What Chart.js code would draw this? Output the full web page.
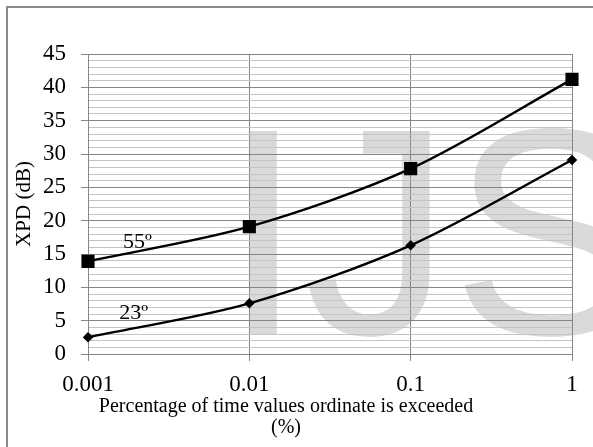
<!DOCTYPE html>
<html>
<head>
<meta charset="utf-8">
<script src="https://cdn.jsdelivr.net/npm/chart.js@4.4.0/dist/chart.umd.min.js"></script>
<style>
  body { margin: 0; background: #fff; }
  #frame { position: absolute; left: 6px; top: 6px; width: 620px; height: 470px; border: 2px solid #8a8a8a; }
  #wrap { position: absolute; left: 0; top: 0; width: 593px; height: 447px; }
</style>
</head>
<body>
<div id="frame"></div>
<div id="wrap"><canvas id="myLine"></canvas></div>
<script>
// values
var xVals = [0.001, 0.01, 0.1, 1];
var xTicks = [0.001, 0.01, 0.1, 1];
var s55 = [13.9, 19.1, 27.8, 41.2];
var s23 = [2.5, 7.6, 16.3, 29.1];
var curveNames = ['55º', '23º'];
var curveLabelAt = [[0.00165, 15.9], [0.00156, 5.25]];

function pts(ys){
	var out = [];
	for(var i=0;i<xVals.length;i++){
		out.push({x: xVals[i], y: ys[i]});
	}
	return out;
}

// grey watermark behind the grid
var watermark = {
	id: 'watermark',
	beforeDraw: function(chart){
		var ctx = chart.ctx;
		ctx.save();
		ctx.fillStyle = '#dadada';
		ctx.font = '295px "Liberation Sans"';
		ctx.textBaseline = 'alphabetic';
		ctx.fillText('IJSER', 222, 334);
		ctx.restore();
	}
};

// the 55º / 23º tags next to the curves
var curveTags = {
	id: 'curveTags',
	afterDatasetsDraw: function(chart){
		var ctx = chart.ctx;
		var xs = chart.scales.x, ys = chart.scales.y;
		ctx.save();
		ctx.fillStyle = '#000';
		ctx.font = '22px "Liberation Serif"';
		ctx.textBaseline = 'alphabetic';
		for(var i=0;i<curveNames.length;i++){
			ctx.fillText(curveNames[i], xs.getPixelForValue(curveLabelAt[i][0]), ys.getPixelForValue(curveLabelAt[i][1]));
		}
		ctx.restore();
	}
};

var ctx = document.getElementById('myLine').getContext('2d');
var myChart = new Chart(ctx, {
	type: 'line',
	data: {
		datasets: [
		{
			label: '55º',
			data: pts(s55),
			borderColor: '#000',
			backgroundColor: '#000',
			borderWidth: 2.5,
			pointStyle: 'rect',
			pointRadius: 7.5,
			tension: 0.3,
			fill: false,
			clip: false
		},
		{
			label: '23º',
			data: pts(s23),
			borderColor: '#000',
			backgroundColor: '#000',
			borderWidth: 2.5,
			pointStyle: 'rectRot',
			pointRadius: 3.5,
			tension: 0.3,
			fill: false,
			clip: false
		}
		]
	},
	options: {
		responsive: true,
		maintainAspectRatio: false,
		animation: false,
		layout: { padding: { left: 0, top: 54, right: 21, bottom: 0 } },
		plugins: {
			legend: { display: false },
			tooltip: { enabled: false },
			title: {
				display: true,
				position: 'bottom',
				text: ['Percentage of time values ordinate is exceeded', '(%)'],
				color: '#000',
				font: { family: 'Liberation Serif', size: 20, weight: 'normal', lineHeight: 1.05 },
				padding: { top: 0, bottom: 9 }
			}
		},
		scales: {
			x: {
				type: 'logarithmic',
				min: 0.001,
				max: 1,
				afterBuildTicks: function(scale){
					scale.ticks = xTicks.map(function(v){ return {value: v}; });
				},
				afterFit: function(scale){ scale.height = 42; },
				ticks: {
					autoSkip: false,
					maxRotation: 0,
					padding: 10,
					color: '#000',
					font: { family: 'Liberation Serif', size: 23 },
					callback: function(v){ return String(v); }
				},
				grid: { color: '#868686', tickLength: 7, tickColor: '#868686' },
				border: { color: '#868686' }
			},
			y: {
				min: 0,
				max: 45,
				afterFit: function(scale){ scale.width = 88; },
				ticks: {
					stepSize: 1,
					autoSkip: false,
					padding: 15,
					color: '#000',
					font: { family: 'Liberation Serif', size: 23 },
					callback: function(v){ return v % 5 === 0 ? String(v) : ''; }
				},
				grid: {
					color: function(c){ return c.tick && c.tick.value % 5 === 0 ? '#868686' : '#c4c4c4'; },
					tickLength: 7,
					tickColor: function(c){ return c.tick && c.tick.value % 5 === 0 ? '#868686' : 'rgba(0,0,0,0)'; }
				},
				border: { color: '#868686' },
				title: {
					display: true,
					text: 'XPD (dB)',
					color: '#000',
					font: { family: 'Liberation Serif', size: 21 },
					padding: { top: 12, bottom: 0 }
				}
			}
		}
	},
	plugins: [watermark, curveTags]
});
</script>
</body>
</html>
